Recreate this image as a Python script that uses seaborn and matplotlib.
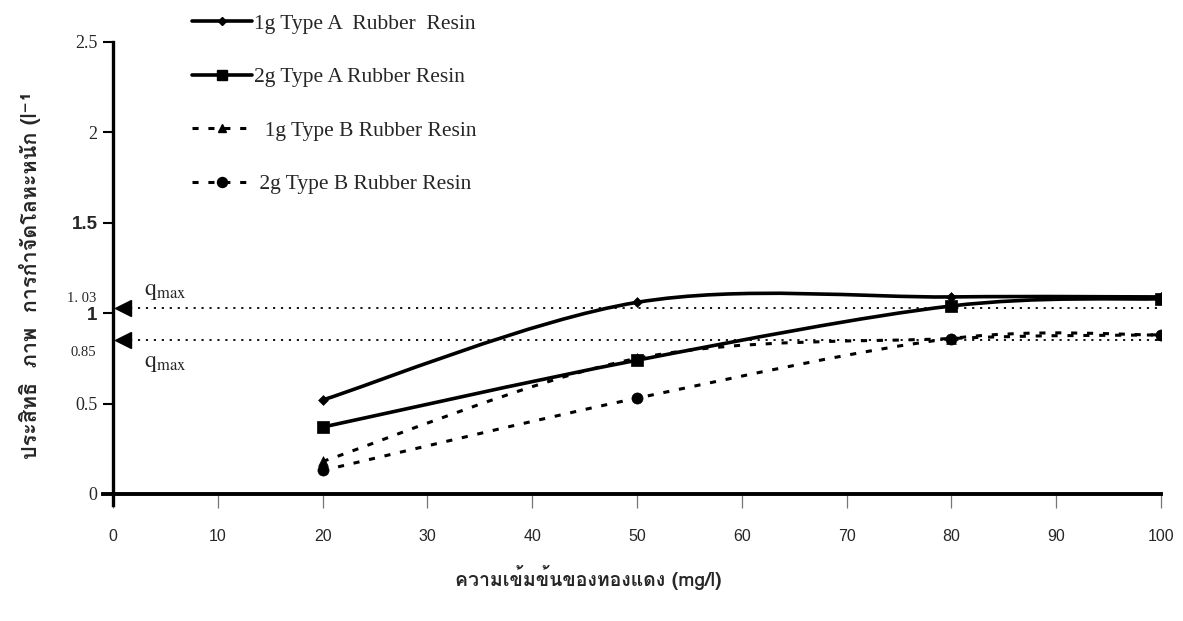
import numpy as np
import pandas as pd
import matplotlib
matplotlib.use("Agg")
import matplotlib.pyplot as plt
import seaborn as sns
from matplotlib.path import Path
from matplotlib.patches import PathPatch
from matplotlib.lines import Line2D
from matplotlib import font_manager
from matplotlib.ft2font import FT2Font

# ---- data -------------------------------------------------------------
conc = [20, 50, 80, 100]                      # copper concentration (mg/l)
type_a_1g = [0.52, 1.06, 1.09, 1.09]
type_a_2g = [0.37, 0.74, 1.04, 1.08]
type_b_1g = [0.18, 0.75, 0.86, 0.88]
type_b_2g = [0.13, 0.53, 0.86, 0.88]
series_names = ["1g Type A  Rubber  Resin", "2g Type A Rubber Resin",
                "  1g Type B Rubber Resin", " 2g Type B Rubber Resin"]
q_max = [1.03, 0.85]
q_max_labels = ["1. 03", "0.85"]
x_ticks = list(range(0, 101, 10))
y_ticks = [0, 0.5, 1, 1.5, 2, 2.5]
y_tick_labels = ["0", "0.5", "1", "1.5", "2", "2.5"]
x_label = "ความเข้มข้นของทองแดง (mg/l)"
y_label = "ประสิทธิ  ภาพ  การกำจัดโลหะหนัก (l⁻¹"


def family_with(codepoint, fallback="DejaVu Sans"):
    """First installed font family that has a glyph for codepoint."""
    for entry in font_manager.fontManager.ttflist:
        try:
            if codepoint in FT2Font(entry.fname).get_charmap():
                return entry.name
        except Exception:
            continue
    return fallback


sns.set_style("white")
plt.rcParams["font.family"] = ["DejaVu Sans"]
plt.rcParams["mathtext.fontset"] = "stix"
thai = family_with(0x0E01)
thai_fam = [thai, "DejaVu Sans"]
serif = "Liberation Serif"
sans = "Liberation Sans"

W, H = 1183, 621
fig = plt.figure(figsize=(W / 100, H / 100), dpi=100)
ax = fig.add_axes([113 / W, 1 - 494 / H, (1161 - 113) / W, (494 - 42) / H])
ax.set_xlim(0, 100)
ax.set_ylim(0, 2.5)

values = [type_a_1g, type_a_2g, type_b_1g, type_b_2g]
markers = ["D", "s", "^", "o"]
msizes = [5, 8, 7, 8]
solid = (None, None)
dash = (2.0, 3.2)
styles = [solid, solid, dash, dash]
lws = [2.6, 2.6, 2.2, 2.2]

df = pd.DataFrame({
    "conc": np.tile(conc, 4),
    "value": np.concatenate(values),
    "series": np.repeat(series_names, len(conc)),
})


def smooth_path(xs, ys):
    """Cubic Bezier path through the points (Catmull-Rom control points)."""
    pts = np.column_stack([xs, ys]).astype(float)
    n = len(pts)
    verts = [pts[0]]
    codes = [Path.MOVETO]
    for i in range(n - 1):
        p0 = pts[max(i - 1, 0)]
        p1 = pts[i]
        p2 = pts[i + 1]
        p3 = pts[min(i + 2, n - 1)]
        c1 = p1 + (p2 - p0) / 6.0
        c2 = p2 - (p3 - p1) / 6.0
        verts += [c1, c2, p2]
        codes += [Path.CURVE4] * 3
    return Path(verts, codes)


for vals, ls, lw in zip(values, styles, lws):
    patch = PathPatch(smooth_path(conc, vals), facecolor="none", edgecolor="black",
                      lw=lw, capstyle="butt", zorder=3)
    if ls != solid:
        patch.set_linestyle((0, ls))
    ax.add_patch(patch)

for name, m, s in zip(series_names, markers, msizes):
    sub = df[df["series"] == name]
    sns.scatterplot(data=sub, x="conc", y="value", marker=m, s=s ** 2,
                    color="black", edgecolor="black", linewidth=0.5,
                    ax=ax, legend=False, zorder=4)

# q_max reference lines with arrow heads at the axis
ytrans = ax.get_yaxis_transform()
for k, (v, lab) in enumerate(zip(q_max, q_max_labels)):
    ax.plot([1.6, 100], [v, v], color="black", lw=1.3, ls=(0, (1.2, 3.2)),
            zorder=2, solid_capstyle="butt")
    ax.plot([0.95], [v], marker="<", ms=12, color="black", clip_on=False, zorder=5)
    if k == 0:
        ax.annotate(lab, xy=(-0.016, v), xycoords=ytrans, xytext=(0, 7),
                    textcoords="offset points", ha="right", va="center",
                    fontsize=10.5, family=serif, annotation_clip=False)
        ax.annotate(r"$\mathrm{q}_{\mathrm{max}}$", xy=(3.0, v), xytext=(0, 4),
                    textcoords="offset points", ha="left", va="bottom",
                    fontsize=17)
    else:
        ax.annotate(lab, xy=(-0.016, v), xycoords=ytrans, xytext=(0, -9),
                    textcoords="offset points", ha="right", va="center",
                    fontsize=10.5, family=serif, annotation_clip=False)
        ax.annotate(r"$\mathrm{q}_{\mathrm{max}}$", xy=(3.0, v), xytext=(0, -7),
                    textcoords="offset points", ha="left", va="top",
                    fontsize=17)

# axes styling
for side in ["top", "right"]:
    ax.spines[side].set_visible(False)
ax.spines["left"].set_linewidth(2.4)
ax.spines["bottom"].set_linewidth(2.8)
ax.spines["left"].set_bounds(-0.06, 2.5)
ax.spines["bottom"].set_bounds(-1.0, 100)
for sp in ax.spines.values():
    sp.set_color("black")

ax.set_xticks(x_ticks)
ax.set_xticklabels([str(t) for t in x_ticks], family=sans, fontsize=11.5)
ax.tick_params(axis="x", direction="out", length=10, width=0.9, color="#777777",
               pad=15, bottom=True)
ax.set_yticks(y_ticks)
ax.set_yticklabels(y_tick_labels)
ax.tick_params(axis="y", direction="out", length=7, width=1.5, color="black",
               pad=4, left=True)
for t in ax.get_yticklabels():
    if t.get_text() in ("1", "1.5"):
        t.set_family(sans)
        t.set_fontweight("bold")
        t.set_fontsize(13.5)
    else:
        t.set_family(serif)
        t.set_fontsize(13)

ax.set_xlabel("")
ax.set_ylabel("")
fig.text(588 / W, 1 - 578 / H, x_label, ha="center", va="center",
         fontsize=14, fontweight="bold", family=thai_fam)
fig.text(30 / W, 1 - 275 / H, y_label, ha="center", va="center", rotation=90,
         fontsize=15.5, fontweight="bold", family=thai_fam)

# legend
handles = []
for m, s, ls, lw in zip(markers, msizes, styles, lws):
    kw = dict(color="black", lw=lw, marker=m, markersize=s * 0.9)
    if ls != solid:
        kw["dashes"] = ls
    handles.append(Line2D([], [], **kw))
fig.legend(handles, series_names, loc="upper left",
           bbox_to_anchor=(181 / W, 1 - 3 / H), frameon=False,
           prop={"family": serif, "size": 15.5}, handlelength=2.8,
           handletextpad=0.1, labelspacing=1.55, borderpad=0, numpoints=1)

fig.savefig("out.png", dpi=100)
